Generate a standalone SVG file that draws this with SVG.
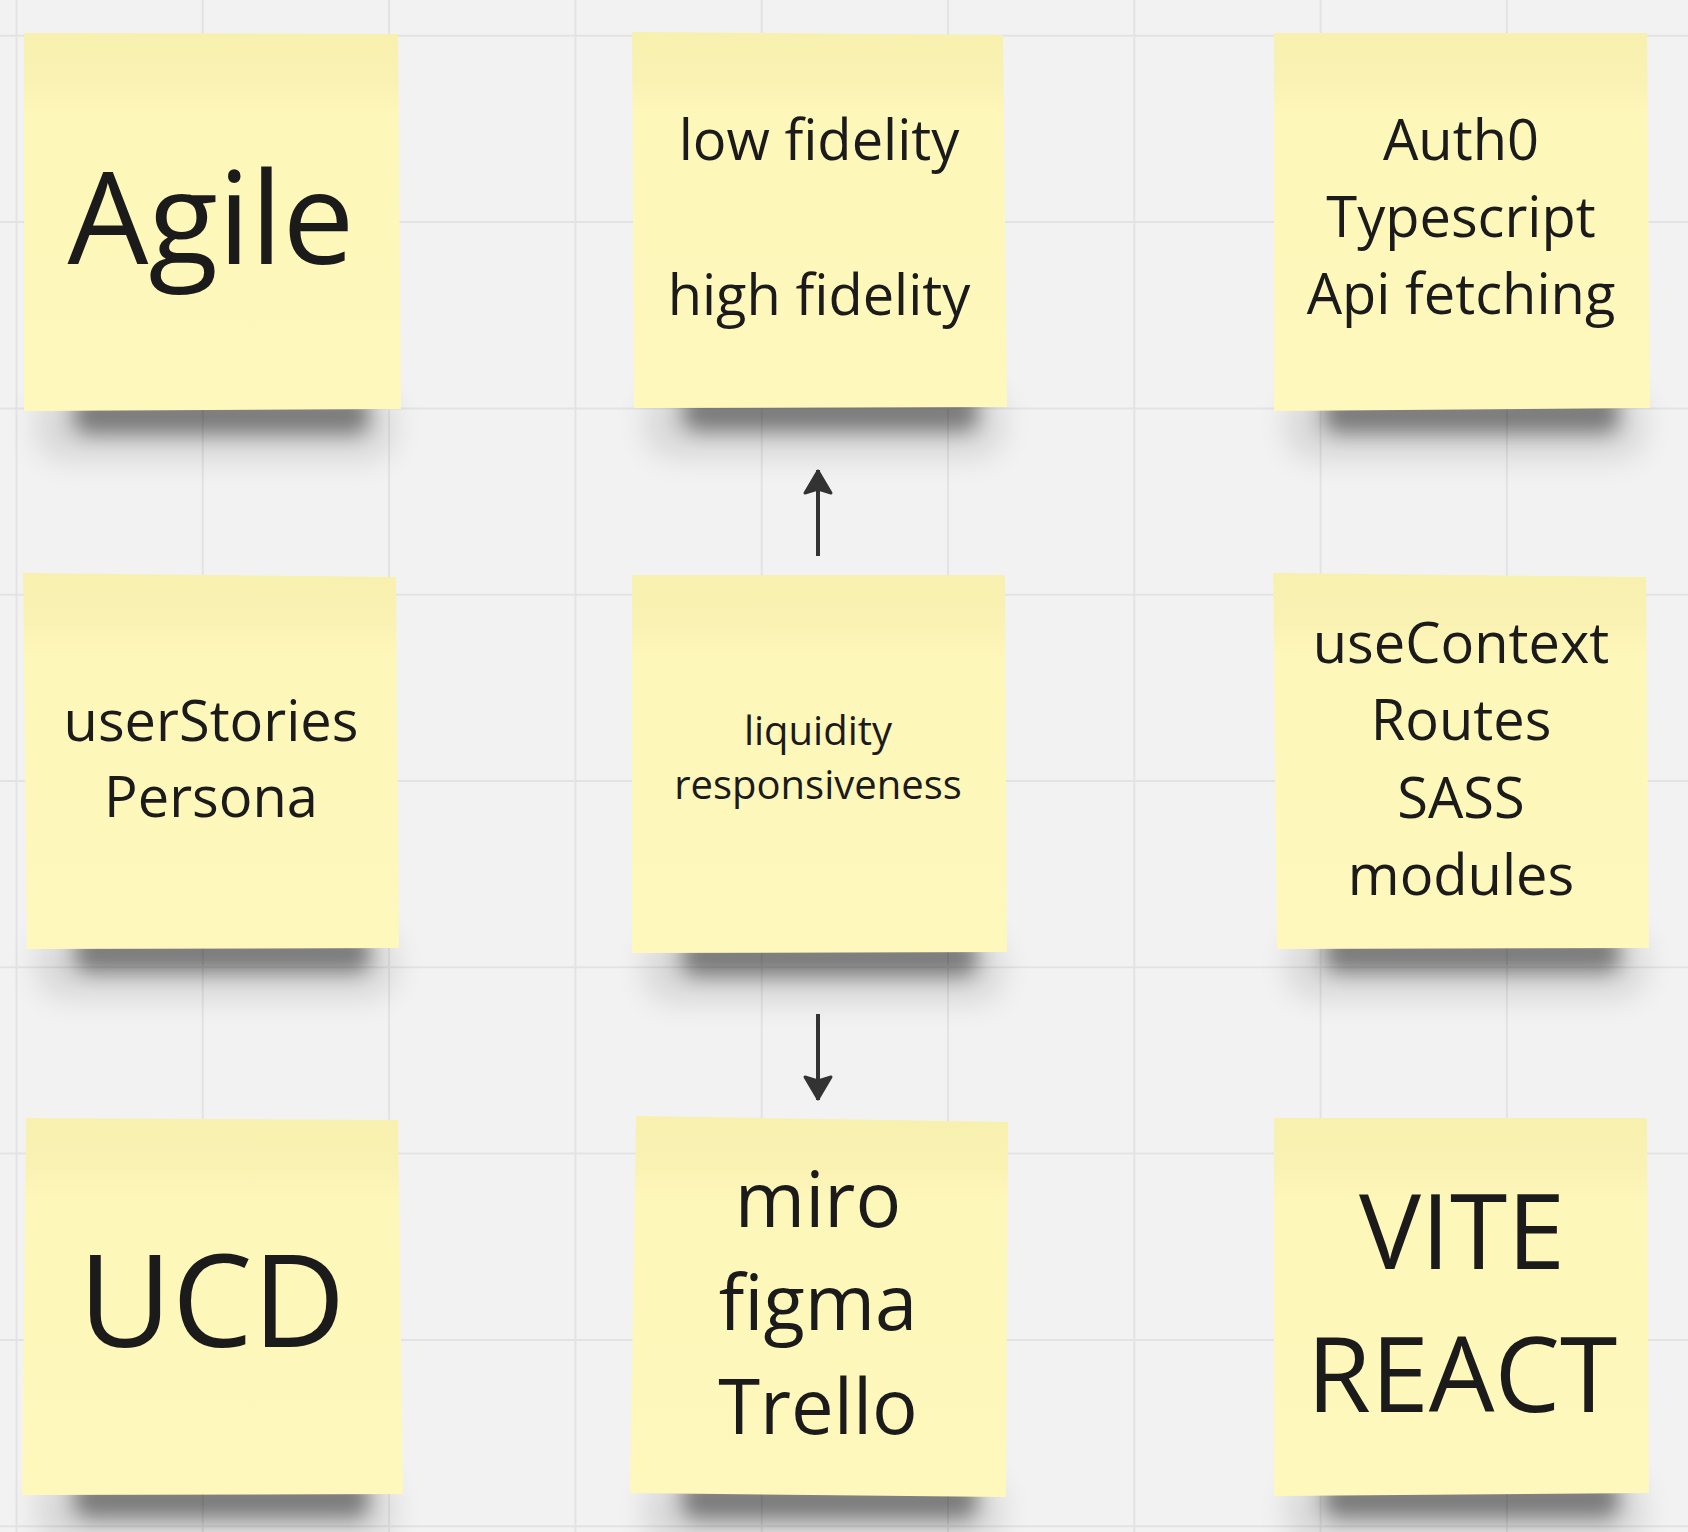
<svg xmlns="http://www.w3.org/2000/svg" xmlns:xlink="http://www.w3.org/1999/xlink" width="1688" height="1532" viewBox="0 0 1688 1532">
<style>
.grid line{stroke:#e3e3e3;stroke-width:2}
.note{fill:url(#paper)}
.t{font-family:"Open Sans","Noto Sans","Liberation Sans",sans-serif;fill:#1b1b1b;text-anchor:middle}
.s56{font-size:56px}
.s40{font-size:40px}
.s77{font-size:76px}
.s104{font-size:104px}
.s128{font-size:128px}
.conn line{stroke:#333333;stroke-width:4;marker-end:url(#ah)}
</style>
<defs>
<linearGradient id="paper" x1="0" y1="0" x2="0" y2="1">
<stop offset="0" stop-color="#f8f0ae"/>
<stop offset="0.13" stop-color="#faf2b3"/>
<stop offset="0.22" stop-color="#fef7ba"/>
<stop offset="1" stop-color="#fff8bc"/>
</linearGradient>
<filter id="b1" x="-30%" y="-200%" width="160%" height="500%"><feGaussianBlur stdDeviation="10"/></filter>
<filter id="b2" x="-30%" y="-200%" width="160%" height="500%"><feGaussianBlur stdDeviation="16"/></filter>
<g id="sh">
<rect x="14" y="-16" width="355" height="64" rx="24" fill="#000" opacity="0.12" filter="url(#b2)"/>
<rect x="50" y="-16" width="295" height="40" rx="16" fill="#000" opacity="0.42" filter="url(#b1)"/>
</g>
<marker id="ah" viewBox="0 0 28 32" refX="26" refY="16" markerWidth="28" markerHeight="32" markerUnits="userSpaceOnUse" orient="auto">
<path d="M3,3 L25,16 L3,29 L7,16 Z" fill="#333333" stroke="#333333" stroke-width="3" stroke-linejoin="round"/>
</marker>
</defs>
<rect width="1688" height="1532" fill="#f2f2f2"/>
<g class="grid">
<line x1="16.5" y1="0" x2="16.5" y2="1532"/>
<line x1="202.8" y1="0" x2="202.8" y2="1532"/>
<line x1="389.1" y1="0" x2="389.1" y2="1532"/>
<line x1="575.4" y1="0" x2="575.4" y2="1532"/>
<line x1="761.7" y1="0" x2="761.7" y2="1532"/>
<line x1="948" y1="0" x2="948" y2="1532"/>
<line x1="1134.3" y1="0" x2="1134.3" y2="1532"/>
<line x1="1320.6" y1="0" x2="1320.6" y2="1532"/>
<line x1="1506.9" y1="0" x2="1506.9" y2="1532"/>
<line x1="0" y1="35.8" x2="1688" y2="35.8"/>
<line x1="0" y1="222.1" x2="1688" y2="222.1"/>
<line x1="0" y1="408.4" x2="1688" y2="408.4"/>
<line x1="0" y1="594.7" x2="1688" y2="594.7"/>
<line x1="0" y1="781" x2="1688" y2="781"/>
<line x1="0" y1="967.3" x2="1688" y2="967.3"/>
<line x1="0" y1="1153.6" x2="1688" y2="1153.6"/>
<line x1="0" y1="1339.9" x2="1688" y2="1339.9"/>
<line x1="0" y1="1526.2" x2="1688" y2="1526.2"/>
</g>
<g id="connectors" class="conn">
<line x1="818" y1="556" x2="818" y2="470"/>
<line x1="818" y1="1014" x2="818" y2="1100"/>
</g>
<g id="note-agile">
<use xlink:href="#sh" x="24" y="410"/>
<polygon class="note" points="24,33 398,34 401,409 24,411"/>
<text class="t s128" x="211" y="264">Agile</text>
</g>
<g id="note-fidelity">
<use xlink:href="#sh" x="633" y="407"/>
<polygon class="note" points="632,32 1003,35 1007,407 634,408"/>
<text class="t s56" x="819" y="160">low fidelity</text>
<text class="t s56" x="819" y="315">high fidelity</text>
</g>
<g id="note-auth">
<use xlink:href="#sh" x="1274" y="409"/>
<polygon class="note" points="1274,33 1647,33 1650,408 1274,411"/>
<text class="t s56" x="1461" y="160">Auth0</text>
<text class="t s56" x="1461" y="237">Typescript</text>
<text class="t s56" x="1461" y="314">Api fetching</text>
</g>
<g id="note-userstories">
<use xlink:href="#sh" x="25" y="948"/>
<polygon class="note" points="23,573 396,577 399,948 27,949"/>
<text class="t s56" x="211" y="741">userStories</text>
<text class="t s56" x="211" y="817">Persona</text>
</g>
<g id="note-liquidity">
<use xlink:href="#sh" x="632" y="952"/>
<polygon class="note" points="632,575 1005,575 1007,952 632,953"/>
<text class="t s40" x="818" y="745">liquidity</text>
<text class="t s40" x="818" y="799">responsiveness</text>
</g>
<g id="note-usecontext">
<use xlink:href="#sh" x="1275" y="948"/>
<polygon class="note" points="1273,573 1646,577 1649,948 1277,949"/>
<text class="t s56" x="1461" y="663">useContext</text>
<text class="t s56" x="1461" y="740">Routes</text>
<text class="t s56" x="1461" y="818">SASS</text>
<text class="t s56" x="1461" y="895">modules</text>
</g>
<g id="note-ucd">
<use xlink:href="#sh" x="24" y="1494"/>
<polygon class="note" points="26,1118 398,1120 403,1494 22,1495"/>
<text class="t s128" x="212" y="1347">UCD</text>
</g>
<g id="note-tools">
<use xlink:href="#sh" x="632" y="1495"/>
<polygon class="note" points="636,1116 1008,1122 1006,1497 630,1493"/>
<text class="t s77" x="818" y="1227">miro</text>
<text class="t s77" x="818" y="1330">figma</text>
<text class="t s77" x="818" y="1434">Trello</text>
</g>
<g id="note-vite">
<use xlink:href="#sh" x="1274" y="1494"/>
<polygon class="note" points="1274,1118 1647,1118 1649,1493 1274,1496"/>
<text class="t s104" x="1462" y="1269">VITE</text>
<text class="t s104" x="1462" y="1412">REACT</text>
</g>
</svg>
